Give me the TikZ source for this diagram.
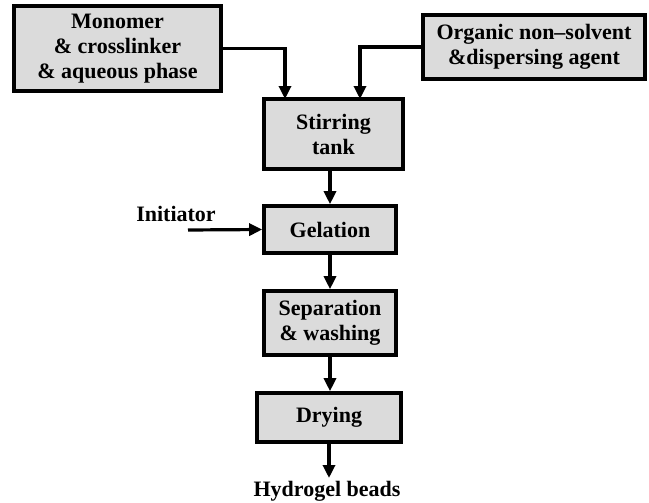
\documentclass[tikz,border=0pt]{standalone}
\usepackage{fontspec}
\setmainfont{Liberation Serif}
\usetikzlibrary{arrows.meta}

\begin{document}
\begin{tikzpicture}[
  x=0.5pt, y=-0.5pt,
  every node/.style={font=\fontsize{11}{12.5}\selectfont\bfseries},
  stage/.style={
    draw, line width=1.8pt, fill=black!14,
    align=center, inner sep=0pt,
    },
  flow/.style={
    line width=1.6pt,
    -{Triangle[length=6.5pt,width=6pt]},
    },
  ]
\useasboundingbox (0,0) rectangle (649,503);
% boxes
\node[stage, minimum width=103.5pt, minimum height=42.5pt] (mono) at (117.5,48.5)
  {Monomer\\ \& crosslinker\\ \& aqueous phase};
\node[stage, minimum width=111pt, minimum height=32pt] (org) at (534,47)
  {Organic non--solvent\\ \&dispersing agent};
\node[stage, minimum width=69.5pt, minimum height=35pt] (stir) at (333.5,134)
  {Stirring\\ tank};
\node[stage, minimum width=66pt, minimum height=23.5pt] (gel) at (330,229.5)
  {Gelation};
\node[stage, minimum width=66pt, minimum height=32pt] (sep) at (330,323)
  {Separation\\ \& washing};
\node[stage, minimum width=72pt, minimum height=24.5pt] (dry) at (329,417.5)
  {Drying};
\node (init) at (176,214) {Initiator};
\node (beads) at (327,491) {Hydrogel beads};
% arrow ends
\coordinate (in1) at (285,99);
\coordinate (in2) at (360,99);
\coordinate (src) at (188,230);
\coordinate (out) at (329,478);
% arrows
\draw[flow] (mono.east) -| (in1);
\draw[flow] (org.west) -| (in2);
\draw[flow] (stir.south -| gel) -- (gel.north);
\draw[flow] (src) -- (gel.west);
\draw[flow] (gel.south) -- (sep.north);
\draw[flow] (sep.south) -- (sep.south |- dry.north);
\draw[flow] (dry.south) -- (out);
\end{tikzpicture}
\end{document}
